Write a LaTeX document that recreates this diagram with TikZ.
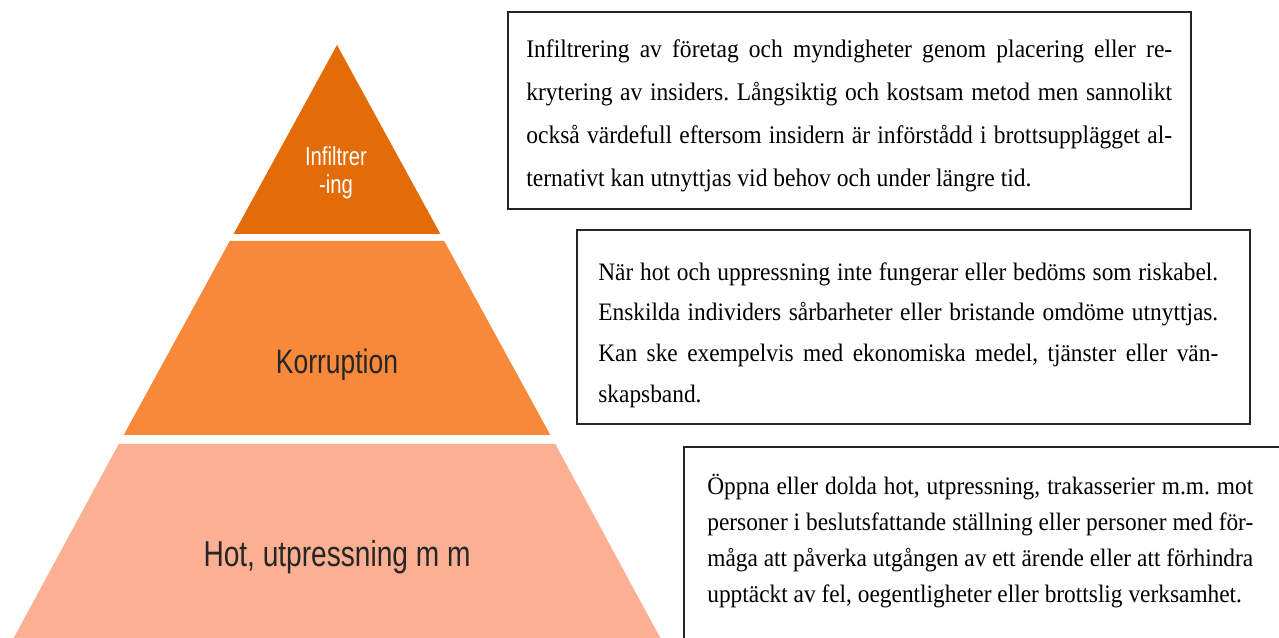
\documentclass[tikz,border=0pt]{standalone}
\usepackage{fontspec}
\newfontfamily\pyrfont{Liberation Sans}[FakeStretch=0.78]
\newfontfamily\boxfont{Liberation Serif}[FakeStretch=0.93]
\definecolor{topband}{HTML}{E36C09}
\definecolor{midband}{HTML}{F8883A}
\definecolor{lowband}{HTML}{FBB093}
\tikzstyle{band label}=[inner sep=0pt, align=center]
\tikzstyle{box}=[draw=black!85, line width=0.8pt]
\tikzstyle{box text}=[inner sep=0pt, anchor=west, align=justify]
\frenchspacing

\begin{document}
\begin{tikzpicture}[x=0.02cm, y=-0.02cm]
\clip (0,0) rectangle (1279,638);
\fill[white] (0,0) rectangle (1279,638);
% Pyramid
    \fill[topband] (337,45) -- (440.4,234) -- (233.6,234) -- cycle;
    \fill[midband] (229.8,241) -- (444.2,241) -- (550.3,435) -- (123.7,435) -- cycle;
    \fill[lowband] (118.7,444) -- (555.3,444) -- (661.4,640) -- (12.6,640) -- cycle;
    \node[band label, text=white, font=\pyrfont\fontsize{14.8}{15.8}\selectfont] (infiltr) at (336,173) {Infiltrer\\-ing};
    \node[band label, anchor=base, text=black!85, font=\pyrfont\fontsize{19.3}{22}\selectfont] (korrupt) at (337,374) {Korruption};
    \node[band label, anchor=base, text=black!85, font=\pyrfont\fontsize{20.5}{24}\selectfont] (hot) at (337,567) {Hot, utpressning m m};
% Boxes
    \draw[box] (508,12) rectangle (1191,209);
    \draw[box] (577,230) rectangle (1250,424);
    \draw[box] (684,447) rectangle (1295,660);
    \node[box text, text width=12.92cm, font=\boxfont\fontsize{14.4}{24.4}\selectfont] (infiltrtext) at (526,116)
        {Infiltrering av företag och myndigheter genom placering eller re-\linebreak
         krytering av insiders. Långsiktig och kostsam metod men sannolikt\linebreak
         också värdefull eftersom insidern är införstådd i brottsupplägget al-\linebreak
         ternativt kan utnyttjas vid behov och under längre tid.};
    \node[box text, text width=12.4cm, font=\boxfont\fontsize{14.3}{23.2}\selectfont] (korrupttext) at (598,335)
        {När hot och uppressning inte fungerar eller bedöms som riskabel.\linebreak
         Enskilda individers sårbarheter eller bristande omdöme utnyttjas.\linebreak
         Kan ske exempelvis med ekonomiska medel, tjänster eller vän-\linebreak
         skapsband.};
    \node[box text, text width=10.92cm, font=\boxfont\fontsize{14.3}{20.6}\selectfont] (hottext) at (707,541)
        {Öppna eller dolda hot, utpressning, trakasserier m.m. mot\linebreak
         personer i beslutsfattande ställning eller personer med för-\linebreak
         måga att påverka utgången av ett ärende eller att förhindra\linebreak
         upptäckt av fel, oegentligheter eller brottslig verksamhet.};

\end{tikzpicture}
\end{document}
